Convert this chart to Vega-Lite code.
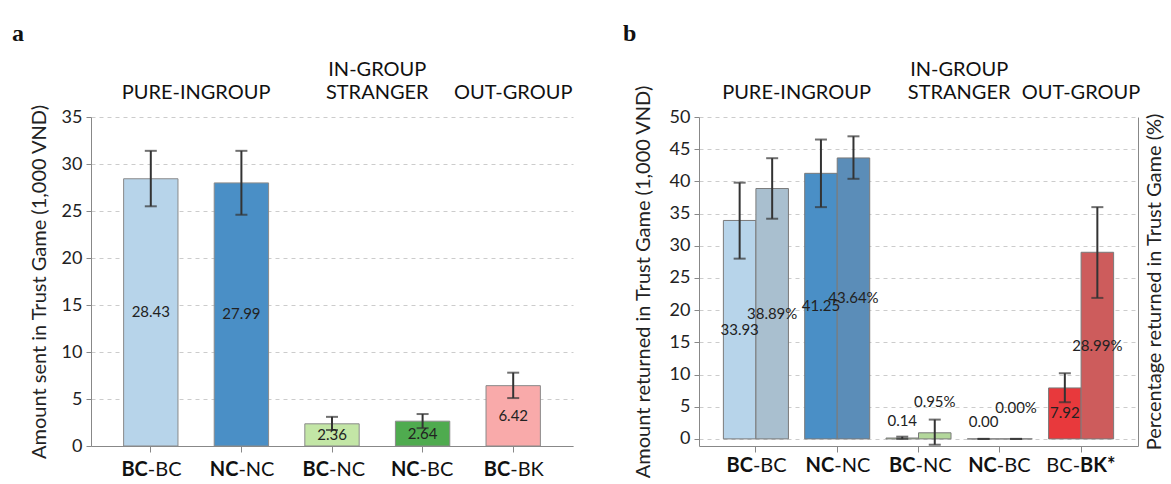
{
  "$schema": "https://vega.github.io/schema/vega-lite/v6.json",
  "padding": {"left": 12, "top": 21, "right": 5, "bottom": 5},
  "bounds": "flush",
  "spacing": 126,
  "resolve": {"scale": {"color": "independent"}},
  "config": {
    "font": "Lato",
    "view": {"stroke": null},
    "axis": {"labelFont": "Lato", "titleFont": "Lato"},
    "text": {"font": "Lato"},
    "title": {"font": "Liberation Serif"}
  },
  "datasets": {
    "sent": [
      {"cat": "BC-BC", "value": 28.43, "lo": 25.5, "hi": 31.4, "label": "28.43"},
      {"cat": "NC-NC", "value": 27.99, "lo": 24.6, "hi": 31.4, "label": "27.99"},
      {"cat": "BC-NC", "value": 2.36, "lo": 1.7, "hi": 3.1, "label": "2.36"},
      {"cat": "NC-BC", "value": 2.64, "lo": 1.9, "hi": 3.4, "label": "2.64"},
      {"cat": "BC-BK", "value": 6.42, "lo": 5.1, "hi": 7.8, "label": "6.42"}
    ],
    "returned": [
      {"cat": "BC-BC", "measure": "amount", "key": "BC-BC amount", "value": 33.93, "lo": 28.0, "hi": 39.8, "label": "33.93"},
      {"cat": "BC-BC", "measure": "percent", "key": "BC-BC percent", "value": 38.89, "lo": 34.2, "hi": 43.6, "label": "38.89%"},
      {"cat": "NC-NC", "measure": "amount", "key": "NC-NC amount", "value": 41.25, "lo": 36.0, "hi": 46.5, "label": "41.25"},
      {"cat": "NC-NC", "measure": "percent", "key": "NC-NC percent", "value": 43.64, "lo": 40.4, "hi": 47.0, "label": "43.64%"},
      {"cat": "BC-NC", "measure": "amount", "key": "BC-NC amount", "value": 0.14, "lo": 0.0, "hi": 0.35, "label": "0.14"},
      {"cat": "BC-NC", "measure": "percent", "key": "BC-NC percent", "value": 0.95, "lo": -0.9, "hi": 3.0, "label": "0.95%"},
      {"cat": "NC-BC", "measure": "amount", "key": "NC-BC amount", "value": 0.0, "lo": 0.0, "hi": 0.0, "label": "0.00"},
      {"cat": "NC-BC", "measure": "percent", "key": "NC-BC percent", "value": 0.0, "lo": 0.0, "hi": 0.0, "label": "0.00%"},
      {"cat": "BC-BK", "measure": "amount", "key": "BC-BK amount", "value": 7.92, "lo": 5.7, "hi": 10.2, "label": "7.92"},
      {"cat": "BC-BK", "measure": "percent", "key": "BC-BK percent", "value": 28.99, "lo": 21.9, "hi": 36.0, "label": "28.99%"}
    ],
    "groups": [
      {"cat": "BC-BC", "label": "PURE-INGROUP", "pos": "between"},
      {"cat": "BC-NC", "label": "IN-GROUP\nSTRANGER", "pos": "between2"},
      {"cat": "BC-BK", "label": "OUT-GROUP", "pos": "center"}
    ],
    "xlabA": [
      {"cat": "BC-BC", "p1": "BC", "p2": "-BC", "bf": true},
      {"cat": "NC-NC", "p1": "NC", "p2": "-NC", "bf": true},
      {"cat": "BC-NC", "p1": "BC", "p2": "-NC", "bf": true},
      {"cat": "NC-BC", "p1": "NC", "p2": "-BC", "bf": true},
      {"cat": "BC-BK", "p1": "BC", "p2": "-BK", "bf": true}
    ],
    "xlabB": [
      {"cat": "BC-BC", "p1": "BC", "p2": "-BC", "bf": true},
      {"cat": "NC-NC", "p1": "NC", "p2": "-NC", "bf": true},
      {"cat": "BC-NC", "p1": "BC", "p2": "-NC", "bf": true},
      {"cat": "NC-BC", "p1": "NC", "p2": "-BC", "bf": true},
      {"cat": "BC-BK", "p1": "BC-", "p2": "BK*", "bf": false}
    ]
  },
  "hconcat": [
    {
      "width": 482,
      "height": 329,
      "title": {"text": "a", "anchor": "start", "frame": "bounds", "fontSize": 24, "fontWeight": "bold", "color": "#111", "offset": 14, "dx": -17},
      "resolve": {"scale": {"y": "independent"}},
      "layer": [
        {
          "data": {"name": "sent"},
          "encoding": {
            "x": {"field": "cat", "type": "nominal", "sort": null,
              "scale": {"domain": ["BC-BC", "NC-NC", "BC-NC", "NC-BC", "BC-BK"], "paddingInner": 0.4, "paddingOuter": 0.36},
              "axis": {"labels": false, "title": null, "ticks": true, "tickSize": 6, "tickColor": "#888", "domainColor": "#888", "grid": false}}
          },
          "layer": [
            {
              "mark": {"type": "bar", "stroke": "#8a8a8a", "strokeWidth": 1},
              "encoding": {
                "y": {"field": "value", "type": "quantitative",
                  "scale": {"domain": [0, 35], "nice": false, "zero": false},
                  "axis": {"title": "Amount sent in Trust Game (1,000 VND)", "values": [0, 5, 10, 15, 20, 25, 30, 35], "labelOverlap": false, "grid": true, "gridDash": [4, 4], "gridColor": "#cccccc", "domainColor": "#888", "tickColor": "#888", "tickSize": 5, "labelFontSize": 18, "labelColor": "#222", "labelPadding": 4, "titleFontSize": 20, "titleFontWeight": "normal", "titleColor": "#222", "titlePadding": 12}},
                "color": {"field": "cat", "type": "nominal",
                  "scale": {"domain": ["BC-BC", "NC-NC", "BC-NC", "NC-BC", "BC-BK"], "range": ["#b7d4ea", "#4a8fc6", "#c3e6a6", "#4fab4f", "#f9aaaa"]},
                  "legend": null}
              }
            },
            {
              "mark": {"type": "rule", "color": "#333", "strokeWidth": 2},
              "encoding": {"y": {"field": "lo", "type": "quantitative", "axis": {"title": "Amount sent in Trust Game (1,000 VND)", "values": [0, 5, 10, 15, 20, 25, 30, 35], "labelOverlap": false, "grid": true, "gridDash": [4, 4], "gridColor": "#cccccc", "domainColor": "#888", "tickColor": "#888", "tickSize": 5, "labelFontSize": 18, "labelColor": "#222", "labelPadding": 4, "titleFontSize": 20, "titleFontWeight": "normal", "titleColor": "#222", "titlePadding": 12}}, "y2": {"field": "hi"}}
            },
            {
              "mark": {"type": "tick", "color": "#333", "thickness": 2, "size": 12},
              "encoding": {"y": {"field": "lo", "type": "quantitative", "axis": {"title": "Amount sent in Trust Game (1,000 VND)", "values": [0, 5, 10, 15, 20, 25, 30, 35], "labelOverlap": false, "grid": true, "gridDash": [4, 4], "gridColor": "#cccccc", "domainColor": "#888", "tickColor": "#888", "tickSize": 5, "labelFontSize": 18, "labelColor": "#222", "labelPadding": 4, "titleFontSize": 20, "titleFontWeight": "normal", "titleColor": "#222", "titlePadding": 12}}}
            },
            {
              "mark": {"type": "tick", "color": "#333", "thickness": 2, "size": 12},
              "encoding": {"y": {"field": "hi", "type": "quantitative", "axis": {"title": "Amount sent in Trust Game (1,000 VND)", "values": [0, 5, 10, 15, 20, 25, 30, 35], "labelOverlap": false, "grid": true, "gridDash": [4, 4], "gridColor": "#cccccc", "domainColor": "#888", "tickColor": "#888", "tickSize": 5, "labelFontSize": 18, "labelColor": "#222", "labelPadding": 4, "titleFontSize": 20, "titleFontWeight": "normal", "titleColor": "#222", "titlePadding": 12}}}
            },
            {
              "data": {"name": "groups"},
              "transform": [{"filter": "datum.pos == 'between'"}],
              "mark": {"type": "text", "fontSize": 20, "color": "#111", "baseline": "bottom"},
              "encoding": {
                "x": {"field": "cat", "type": "nominal", "sort": null, "bandPosition": 1.333,
                  "scale": {"domain": ["BC-BC", "NC-NC", "BC-NC", "NC-BC", "BC-BK"], "paddingInner": 0.4, "paddingOuter": 0.36},
                  "axis": {"labels": false, "title": null, "ticks": true, "tickSize": 6, "tickColor": "#888", "domainColor": "#888", "grid": false}},
                "y": {"datum": 36.5, "type": "quantitative", "axis": {"title": "Amount sent in Trust Game (1,000 VND)", "values": [0, 5, 10, 15, 20, 25, 30, 35], "labelOverlap": false, "grid": true, "gridDash": [4, 4], "gridColor": "#cccccc", "domainColor": "#888", "tickColor": "#888", "tickSize": 5, "labelFontSize": 18, "labelColor": "#222", "labelPadding": 4, "titleFontSize": 20, "titleFontWeight": "normal", "titleColor": "#222", "titlePadding": 12}},
                "text": {"field": "label"}
              }
            },
            {
              "data": {"name": "groups"},
              "transform": [{"filter": "datum.pos == 'between2'"}],
              "mark": {"type": "text", "fontSize": 20, "color": "#111", "baseline": "bottom", "lineBreak": "\n", "lineHeight": 23, "dy": -23},
              "encoding": {
                "x": {"field": "cat", "type": "nominal", "sort": null, "bandPosition": 1.333,
                  "scale": {"domain": ["BC-BC", "NC-NC", "BC-NC", "NC-BC", "BC-BK"], "paddingInner": 0.4, "paddingOuter": 0.36},
                  "axis": {"labels": false, "title": null, "ticks": true, "tickSize": 6, "tickColor": "#888", "domainColor": "#888", "grid": false}},
                "y": {"datum": 36.5, "type": "quantitative", "axis": {"title": "Amount sent in Trust Game (1,000 VND)", "values": [0, 5, 10, 15, 20, 25, 30, 35], "labelOverlap": false, "grid": true, "gridDash": [4, 4], "gridColor": "#cccccc", "domainColor": "#888", "tickColor": "#888", "tickSize": 5, "labelFontSize": 18, "labelColor": "#222", "labelPadding": 4, "titleFontSize": 20, "titleFontWeight": "normal", "titleColor": "#222", "titlePadding": 12}},
                "text": {"field": "label"}
              }
            },
            {
              "data": {"name": "groups"},
              "transform": [{"filter": "datum.pos == 'center'"}],
              "mark": {"type": "text", "fontSize": 20, "color": "#111", "baseline": "bottom"},
              "encoding": {
                "y": {"datum": 36.5, "type": "quantitative", "axis": {"title": "Amount sent in Trust Game (1,000 VND)", "values": [0, 5, 10, 15, 20, 25, 30, 35], "labelOverlap": false, "grid": true, "gridDash": [4, 4], "gridColor": "#cccccc", "domainColor": "#888", "tickColor": "#888", "tickSize": 5, "labelFontSize": 18, "labelColor": "#222", "labelPadding": 4, "titleFontSize": 20, "titleFontWeight": "normal", "titleColor": "#222", "titlePadding": 12}},
                "text": {"field": "label"}
              }
            },
            {
              "data": {"name": "xlabA"},
              "mark": {"type": "text", "fontSize": 20, "fontWeight": "bold", "color": "#111", "align": "right", "baseline": "middle", "dx": -3, "dy": 24},
              "encoding": {"y": {"value": "height"}, "text": {"field": "p1"}}
            },
            {
              "data": {"name": "xlabA"},
              "mark": {"type": "text", "fontSize": 20, "color": "#111", "align": "left", "baseline": "middle", "dx": -3, "dy": 24},
              "encoding": {"y": {"value": "height"}, "text": {"field": "p2"}}
            }
          ]
        },
        {
          "data": {"name": "sent"},
          "mark": {"type": "text", "fontSize": 15, "color": "#222", "baseline": "middle"},
          "encoding": {
            "x": {"field": "cat", "type": "nominal", "sort": null,
              "scale": {"domain": ["BC-BC", "NC-NC", "BC-NC", "NC-BC", "BC-BK"], "paddingInner": 0.4, "paddingOuter": 0.36},
              "axis": {"labels": false, "title": null, "ticks": true, "tickSize": 6, "tickColor": "#888", "domainColor": "#888", "grid": false}},
            "y": {"field": "value", "type": "quantitative", "scale": {"domain": [0, 70], "nice": false, "zero": false}, "axis": null},
            "text": {"field": "label"}
          }
        }
      ]
    },
    {
      "width": 439,
      "height": 329,
      "title": {"text": "b", "anchor": "start", "frame": "bounds", "fontSize": 24, "fontWeight": "bold", "color": "#111", "offset": 14, "dx": -10},
      "resolve": {"scale": {"y": "independent"}},
      "layer": [
        {
          "data": {"name": "returned"},
          "encoding": {
            "x": {"field": "cat", "type": "nominal", "sort": null,
              "scale": {"domain": ["BC-BC", "NC-NC", "BC-NC", "NC-BC", "BC-BK"], "paddingInner": 0.2, "paddingOuter": 0.3},
              "axis": {"labels": false, "title": null, "ticks": true, "tickSize": 6, "tickColor": "#888", "domainColor": "#888", "grid": false}}
          },
          "layer": [
            {
              "mark": {"type": "bar", "stroke": "#7a7a7a", "strokeWidth": 1},
              "encoding": {
                "xOffset": {"field": "measure", "type": "nominal", "sort": null, "scale": {"domain": ["amount", "percent"], "paddingInner": 0, "paddingOuter": 0}},
                "y": {"field": "value", "type": "quantitative",
                  "scale": {"domain": [-1.1, 50], "nice": false, "zero": false},
                  "axis": {"title": "Amount returned in Trust Game (1,000 VND)", "values": [0, 5, 10, 15, 20, 25, 30, 35, 40, 45, 50], "labelOverlap": false, "grid": true, "gridDash": [4, 4], "gridColor": "#cccccc", "domainColor": "#888", "tickColor": "#888", "tickSize": 5, "labelFontSize": 18, "labelColor": "#222", "labelPadding": 4, "titleFontSize": 20, "titleFontWeight": "normal", "titleColor": "#222", "titlePadding": 16}},
                "color": {"field": "key", "type": "nominal",
                  "scale": {"domain": ["BC-BC amount", "BC-BC percent", "NC-NC amount", "NC-NC percent", "BC-NC amount", "BC-NC percent", "NC-BC amount", "NC-BC percent", "BC-BK amount", "BC-BK percent"],
                    "range": ["#b7d4ea", "#a9bfcf", "#4a8fc6", "#5b8db8", "#c3e6a6", "#b3d79b", "#4fab4f", "#4fab4f", "#e8393c", "#cd5c5c"]},
                  "legend": null}
              }
            },
            {
              "mark": {"type": "rule", "color": "#333", "strokeWidth": 2},
              "encoding": {
                "xOffset": {"field": "measure", "type": "nominal", "sort": null},
                "y": {"field": "lo", "type": "quantitative", "axis": {"title": "Amount returned in Trust Game (1,000 VND)", "values": [0, 5, 10, 15, 20, 25, 30, 35, 40, 45, 50], "labelOverlap": false, "grid": true, "gridDash": [4, 4], "gridColor": "#cccccc", "domainColor": "#888", "tickColor": "#888", "tickSize": 5, "labelFontSize": 18, "labelColor": "#222", "labelPadding": 4, "titleFontSize": 20, "titleFontWeight": "normal", "titleColor": "#222", "titlePadding": 16}}, "y2": {"field": "hi"}}
            },
            {
              "mark": {"type": "tick", "color": "#333", "thickness": 2, "size": 12},
              "encoding": {
                "xOffset": {"field": "measure", "type": "nominal", "sort": null},
                "y": {"field": "lo", "type": "quantitative", "axis": {"title": "Amount returned in Trust Game (1,000 VND)", "values": [0, 5, 10, 15, 20, 25, 30, 35, 40, 45, 50], "labelOverlap": false, "grid": true, "gridDash": [4, 4], "gridColor": "#cccccc", "domainColor": "#888", "tickColor": "#888", "tickSize": 5, "labelFontSize": 18, "labelColor": "#222", "labelPadding": 4, "titleFontSize": 20, "titleFontWeight": "normal", "titleColor": "#222", "titlePadding": 16}}}
            },
            {
              "mark": {"type": "tick", "color": "#333", "thickness": 2, "size": 12},
              "encoding": {
                "xOffset": {"field": "measure", "type": "nominal", "sort": null},
                "y": {"field": "hi", "type": "quantitative", "axis": {"title": "Amount returned in Trust Game (1,000 VND)", "values": [0, 5, 10, 15, 20, 25, 30, 35, 40, 45, 50], "labelOverlap": false, "grid": true, "gridDash": [4, 4], "gridColor": "#cccccc", "domainColor": "#888", "tickColor": "#888", "tickSize": 5, "labelFontSize": 18, "labelColor": "#222", "labelPadding": 4, "titleFontSize": 20, "titleFontWeight": "normal", "titleColor": "#222", "titlePadding": 16}}}
            },
            {
              "transform": [{"filter": "datum.value < 1 && datum.measure == 'amount'"}],
              "mark": {"type": "text", "fontSize": 15, "color": "#222", "baseline": "middle", "dy": -17},
              "encoding": {
                "xOffset": {"field": "measure", "type": "nominal", "sort": null},
                "y": {"field": "value", "type": "quantitative", "axis": {"title": "Amount returned in Trust Game (1,000 VND)", "values": [0, 5, 10, 15, 20, 25, 30, 35, 40, 45, 50], "labelOverlap": false, "grid": true, "gridDash": [4, 4], "gridColor": "#cccccc", "domainColor": "#888", "tickColor": "#888", "tickSize": 5, "labelFontSize": 18, "labelColor": "#222", "labelPadding": 4, "titleFontSize": 20, "titleFontWeight": "normal", "titleColor": "#222", "titlePadding": 16}},
                "text": {"field": "label"}}
            },
            {
              "transform": [{"filter": "datum.value < 1 && datum.measure == 'percent'"}],
              "mark": {"type": "text", "fontSize": 15, "color": "#222", "baseline": "middle", "dy": -31},
              "encoding": {
                "xOffset": {"field": "measure", "type": "nominal", "sort": null},
                "y": {"field": "value", "type": "quantitative", "axis": {"title": "Amount returned in Trust Game (1,000 VND)", "values": [0, 5, 10, 15, 20, 25, 30, 35, 40, 45, 50], "labelOverlap": false, "grid": true, "gridDash": [4, 4], "gridColor": "#cccccc", "domainColor": "#888", "tickColor": "#888", "tickSize": 5, "labelFontSize": 18, "labelColor": "#222", "labelPadding": 4, "titleFontSize": 20, "titleFontWeight": "normal", "titleColor": "#222", "titlePadding": 16}},
                "text": {"field": "label"}}
            },
            {
              "data": {"name": "groups"},
              "transform": [{"filter": "datum.pos == 'between'"}],
              "mark": {"type": "text", "fontSize": 20, "color": "#111", "baseline": "bottom"},
              "encoding": {
                "x": {"field": "cat", "type": "nominal", "sort": null, "bandPosition": 1.125,
                  "scale": {"domain": ["BC-BC", "NC-NC", "BC-NC", "NC-BC", "BC-BK"], "paddingInner": 0.2, "paddingOuter": 0.3},
                  "axis": {"labels": false, "title": null, "ticks": true, "tickSize": 6, "tickColor": "#888", "domainColor": "#888", "grid": false}},
                "y": {"datum": 52.2, "type": "quantitative", "axis": {"title": "Amount returned in Trust Game (1,000 VND)", "values": [0, 5, 10, 15, 20, 25, 30, 35, 40, 45, 50], "labelOverlap": false, "grid": true, "gridDash": [4, 4], "gridColor": "#cccccc", "domainColor": "#888", "tickColor": "#888", "tickSize": 5, "labelFontSize": 18, "labelColor": "#222", "labelPadding": 4, "titleFontSize": 20, "titleFontWeight": "normal", "titleColor": "#222", "titlePadding": 16}},
                "text": {"field": "label"}
              }
            },
            {
              "data": {"name": "groups"},
              "transform": [{"filter": "datum.pos == 'between2'"}],
              "mark": {"type": "text", "fontSize": 20, "color": "#111", "baseline": "bottom", "lineBreak": "\n", "lineHeight": 23, "dy": -23},
              "encoding": {
                "x": {"field": "cat", "type": "nominal", "sort": null, "bandPosition": 1.125,
                  "scale": {"domain": ["BC-BC", "NC-NC", "BC-NC", "NC-BC", "BC-BK"], "paddingInner": 0.2, "paddingOuter": 0.3},
                  "axis": {"labels": false, "title": null, "ticks": true, "tickSize": 6, "tickColor": "#888", "domainColor": "#888", "grid": false}},
                "y": {"datum": 52.2, "type": "quantitative", "axis": {"title": "Amount returned in Trust Game (1,000 VND)", "values": [0, 5, 10, 15, 20, 25, 30, 35, 40, 45, 50], "labelOverlap": false, "grid": true, "gridDash": [4, 4], "gridColor": "#cccccc", "domainColor": "#888", "tickColor": "#888", "tickSize": 5, "labelFontSize": 18, "labelColor": "#222", "labelPadding": 4, "titleFontSize": 20, "titleFontWeight": "normal", "titleColor": "#222", "titlePadding": 16}},
                "text": {"field": "label"}
              }
            },
            {
              "data": {"name": "groups"},
              "transform": [{"filter": "datum.pos == 'center'"}],
              "mark": {"type": "text", "fontSize": 20, "color": "#111", "baseline": "bottom"},
              "encoding": {
                "y": {"datum": 52.2, "type": "quantitative", "axis": {"title": "Amount returned in Trust Game (1,000 VND)", "values": [0, 5, 10, 15, 20, 25, 30, 35, 40, 45, 50], "labelOverlap": false, "grid": true, "gridDash": [4, 4], "gridColor": "#cccccc", "domainColor": "#888", "tickColor": "#888", "tickSize": 5, "labelFontSize": 18, "labelColor": "#222", "labelPadding": 4, "titleFontSize": 20, "titleFontWeight": "normal", "titleColor": "#222", "titlePadding": 16}},
                "text": {"field": "label"}
              }
            },
            {
              "data": {"name": "xlabB"},
              "transform": [{"filter": "datum.bf"}],
              "mark": {"type": "text", "fontSize": 20, "fontWeight": "bold", "color": "#111", "align": "right", "baseline": "middle", "dx": -3, "dy": 20},
              "encoding": {"y": {"value": "height"}, "text": {"field": "p1"}}
            },
            {
              "data": {"name": "xlabB"},
              "transform": [{"filter": "datum.bf"}],
              "mark": {"type": "text", "fontSize": 20, "color": "#111", "align": "left", "baseline": "middle", "dx": -3, "dy": 20},
              "encoding": {"y": {"value": "height"}, "text": {"field": "p2"}}
            },
            {
              "data": {"name": "xlabB"},
              "transform": [{"filter": "!datum.bf"}],
              "mark": {"type": "text", "fontSize": 20, "color": "#111", "align": "right", "baseline": "middle", "dx": -1, "dy": 20},
              "encoding": {"y": {"value": "height"}, "text": {"field": "p1"}}
            },
            {
              "data": {"name": "xlabB"},
              "transform": [{"filter": "!datum.bf"}],
              "mark": {"type": "text", "fontSize": 20, "fontWeight": "bold", "color": "#111", "align": "left", "baseline": "middle", "dx": -1, "dy": 20},
              "encoding": {"y": {"value": "height"}, "text": {"field": "p2"}}
            }
          ]
        },
        {
          "data": {"name": "returned"},
          "transform": [{"filter": "datum.value >= 1"}],
          "mark": {"type": "text", "fontSize": 15, "color": "#222", "baseline": "middle"},
          "encoding": {
            "x": {"field": "cat", "type": "nominal", "sort": null,
              "scale": {"domain": ["BC-BC", "NC-NC", "BC-NC", "NC-BC", "BC-BK"], "paddingInner": 0.2, "paddingOuter": 0.3},
              "axis": {"labels": false, "title": null, "ticks": true, "tickSize": 6, "tickColor": "#888", "domainColor": "#888", "grid": false}},
            "xOffset": {"field": "measure", "type": "nominal", "sort": null},
            "y": {"field": "value", "type": "quantitative", "scale": {"domain": [-2.2, 100], "nice": false, "zero": false},
              "axis": {"orient": "right", "title": "Percentage returned in Trust Game (%)", "labels": false, "ticks": false, "grid": false, "domain": true, "domainColor": "#888", "titleFontSize": 20, "titleFontWeight": "normal", "titleColor": "#222", "titlePadding": 6, "titleAngle": 270, "titleBaseline": "top"}},
            "text": {"field": "label"}
          }
        }
      ]
    }
  ]
}
